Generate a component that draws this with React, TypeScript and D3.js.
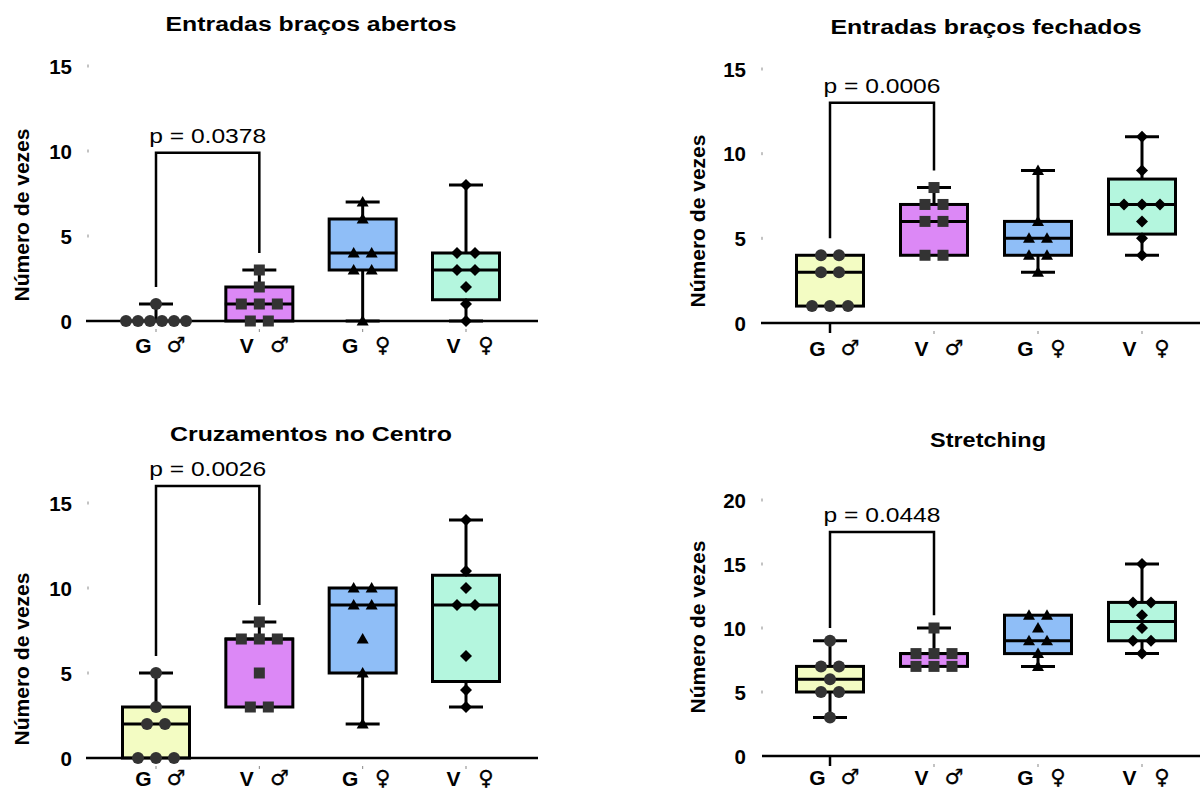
import React from "react";
import * as d3 from "d3";

// ---------- data ----------
const groupLetters = ["G", "V", "G", "V"];
const sexSymbols = ["♂", "♂", "♀", "♀"];
const categories = ["G ♂", "V ♂", "G ♀", "V ♀"];
const panelTitles = [
  "Entradas braços abertos",
  "Entradas braços fechados",
  "Cruzamentos no Centro",
  "Stretching",
];
const yAxisLabel = "Número de vezes";
const yTicks15 = [0, 5, 10, 15];
const yTicks20 = [0, 5, 10, 15, 20];

// raw points per group
const openArmsPoints = [
  [0, 0, 0, 0, 0, 0, 1],
  [0, 0, 1, 1, 1, 2, 3],
  [0, 3, 3, 4, 4, 6, 7],
  [0, 1, 2, 3, 3, 4, 4, 8],
];
const closedArmsPoints = [
  [1, 1, 1, 3, 3, 4, 4],
  [4, 4, 6, 6, 7, 7, 8],
  [3, 4, 4, 5, 5, 6, 9],
  [4, 5, 6, 7, 7, 7, 9, 11],
];
const centerPoints = [
  [0, 0, 0, 2, 2, 3, 5],
  [3, 3, 5, 7, 7, 7, 8],
  [2, 5, 7, 9, 9, 10, 10],
  [3, 4, 6, 9, 9, 10, 11, 14],
];
const stretchPoints = [
  [3, 5, 5, 6, 7, 7, 9],
  [7, 7, 7, 8, 8, 8, 10],
  [7, 8, 9, 9, 10, 11, 11],
  [8, 9, 9, 10, 11, 12, 12, 15],
];

// box stats: [min, q1, median, q3, max]
const openArmsBoxes = [
  [0, 0, 0, 0, 1],
  [0, 0, 1, 2, 3],
  [0, 3, 4, 6, 7],
  [0, 1.25, 3, 4, 8],
];
const closedArmsBoxes = [
  [1, 1, 3, 4, 4],
  [4, 4, 6, 7, 8],
  [3, 4, 5, 6, 9],
  [4, 5.25, 7, 8.5, 11],
];
const centerBoxes = [
  [0, 0, 2, 3, 5],
  [3, 3, 7, 7, 8],
  [2, 5, 9, 10, 10],
  [3, 4.5, 9, 10.75, 14],
];
const stretchBoxes = [
  [3, 5, 6, 7, 9],
  [7, 7, 8, 8, 10],
  [7, 8, 9, 11, 11],
  [8, 9, 10.5, 12, 15],
];

const pValues = ["p = 0.0378", "p = 0.0006", "p = 0.0026", "p = 0.0448"];
const bracketTops = [9.9, 13, 16, 17.5];
const bracketLegEnds = [
  [2, 4],
  [5, 9],
  [6, 9],
  [10, 11],
];

const groupFills = ["#f3fcc3", "#dc88f6", "#8fbef7", "#b4f6de"];
const markerFills = ["#333333", "#333333", "#000000", "#000000"];

// ---------- layout ----------
type Layout = {
  axisX0: number; axisX1: number; cx0: number; cx1: number;
  y0: number; yTopPx: number; yMax: number; ticks: number[];
  tickX: number; labelRight: number;
  titleX: number; titleY: number; titleLen: number;
  ylabX: number; ylabY: number; bigTick: boolean; xLabY: number;
};

const layouts: Layout[] = [
  { axisX0: 86, axisX1: 538, cx0: 156, cx1: 466, y0: 321, yTopPx: 66, yMax: 15, ticks: yTicks15,
    tickX: 88, labelRight: 72, titleX: 311, titleY: 31, titleLen: 291, ylabX: 22, ylabY: 215, bigTick: false, xLabY: 345 },
  { axisX0: 761, axisX1: 1200, cx0: 830, cx1: 1142, y0: 323, yTopPx: 69, yMax: 15, ticks: yTicks15,
    tickX: 762, labelRight: 746, titleX: 986, titleY: 34, titleLen: 311, ylabX: 698, ylabY: 221, bigTick: true, xLabY: 348 },
  { axisX0: 86, axisX1: 538, cx0: 156, cx1: 466, y0: 758, yTopPx: 503, yMax: 15, ticks: yTicks15,
    tickX: 88, labelRight: 72, titleX: 311, titleY: 441, titleLen: 282, ylabX: 22, ylabY: 659, bigTick: false, xLabY: 778 },
  { axisX0: 762, axisX1: 1200, cx0: 830, cx1: 1142, y0: 756, yTopPx: 500, yMax: 20, ticks: yTicks20,
    tickX: 762, labelRight: 746, titleX: 988, titleY: 447, titleLen: 116, ylabX: 698, ylabY: 627, bigTick: true, xLabY: 777 },
];

const allPoints = [openArmsPoints, closedArmsPoints, centerPoints, stretchPoints];
const allBoxes = [openArmsBoxes, closedArmsBoxes, centerBoxes, stretchBoxes];

const FONT = "'Liberation Sans', Arial, Helvetica, sans-serif";

function Marker({ kind, x, y, fill }: { kind: number; x: number; y: number; fill: string }) {
  if (kind === 0) return <circle cx={x} cy={y} r={6} fill={fill} />;
  if (kind === 1) return <rect x={x - 5.5} y={y - 5.5} width={11} height={11} fill={fill} />;
  if (kind === 2)
    return <path d={`M${x},${y - 6} L${x + 6},${y + 4.5} L${x - 6},${y + 4.5} Z`} fill={fill} />;
  return <path d={`M${x},${y - 6} L${x + 6},${y} L${x},${y + 6} L${x - 6},${y} Z`} fill={fill} />;
}

function Panel({ idx }: { idx: number }) {
  const L = layouts[idx];
  const y = d3.scaleLinear().domain([0, L.yMax]).range([L.y0, L.yTopPx]);
  const x = d3.scalePoint<string>().domain(categories).range([L.cx0, L.cx1]);
  const pts = allPoints[idx];
  const boxes = allBoxes[idx];
  const boxW = 67;
  const capW = 34;
  const [legA, legB] = bracketLegEnds[idx];
  const bx0 = x(categories[0])!;
  const bx1 = x(categories[1])!;
  const bTop = y(bracketTops[idx]);

  return (
    <g>
      <text x={L.titleX} y={L.titleY} textAnchor="middle" fontFamily={FONT} fontWeight="bold"
        fontSize={19.5} textLength={L.titleLen} lengthAdjust="spacingAndGlyphs">{panelTitles[idx]}</text>
      <text transform={`translate(${L.ylabX},${L.ylabY}) rotate(-90)`} textAnchor="middle"
        dominantBaseline="central" fontFamily={FONT} fontWeight="bold" fontSize={20}
        textLength={173} lengthAdjust="spacingAndGlyphs">{yAxisLabel}</text>
      {L.ticks.map((t) => (
        <g key={t}>
          <text x={L.labelRight} y={y(t)} textAnchor="end" dominantBaseline="central"
            fontFamily={FONT} fontWeight="bold" fontSize={20.5}>{t}</text>
          {t > 0 && <rect x={L.tickX - 0.5} y={y(t) - 1.5} width={1} height={3} fill="#888" />}
        </g>
      ))}
      {/* boxes */}
      {boxes.map((b, i) => {
        const cx = x(categories[i])!;
        const [mn, q1, md, q3, mx] = b;
        return (
          <g key={i}>
            <line x1={cx} x2={cx} y1={y(q3)} y2={y(mx)} stroke="#000" strokeWidth={3} />
            <line x1={cx} x2={cx} y1={y(q1)} y2={y(mn)} stroke="#000" strokeWidth={3} />
            {mx > q3 && <line x1={cx - capW / 2} x2={cx + capW / 2} y1={y(mx)} y2={y(mx)} stroke="#000" strokeWidth={3} />}
            {mn < q1 && <line x1={cx - capW / 2} x2={cx + capW / 2} y1={y(mn)} y2={y(mn)} stroke="#000" strokeWidth={3} />}
            <rect x={cx - boxW / 2} y={y(q3)} width={boxW} height={Math.max(0, y(q1) - y(q3))}
              fill={groupFills[i]} stroke="#000" strokeWidth={3} />
            <line x1={cx - boxW / 2 - 1} x2={cx + boxW / 2 + 1} y1={y(md)} y2={y(md)} stroke="#000" strokeWidth={3} />
          </g>
        );
      })}
      {/* axis */}
      <line x1={L.axisX0} x2={L.axisX1} y1={L.y0} y2={L.y0} stroke="#000" strokeWidth={2.5} />
      {categories.map((c, i) => {
        const cx = x(c)!;
        return (
          <g key={c}>
            {L.bigTick && i === 0 ? (
              <line x1={cx} x2={cx} y1={L.y0} y2={L.y0 + 10} stroke="#000" strokeWidth={2.5} />
            ) : (
              <rect x={cx - 0.5} y={L.y0 + 8} width={1} height={3} fill="#888" />
            )}
            <text x={cx - 12.5} y={L.xLabY} textAnchor="middle" dominantBaseline="central"
              fontFamily={FONT} fontWeight="bold" fontSize={21}>{groupLetters[i]}</text>
            <text x={cx + 20} y={L.xLabY} textAnchor="middle" dominantBaseline="central"
              fontFamily="'DejaVu Sans', sans-serif" fontWeight="bold" fontSize={21}
              stroke="#000" strokeWidth={0.3}>{sexSymbols[i]}</text>
          </g>
        );
      })}
      {/* points */}
      {pts.map((arr, i) => {
        const cx = x(categories[i])!;
        const counts = d3.rollup(arr, (v) => v.length, (d) => d);
        const seen = new Map<number, number>();
        return (
          <g key={i}>
            {arr.map((v, j) => {
              const k = counts.get(v)!;
              const n = seen.get(v) || 0;
              seen.set(v, n + 1);
              const sp = Math.min(18, 72 / k);
              const px = cx + (n - (k - 1) / 2) * sp;
              return <Marker key={j} kind={i} x={px} y={y(v)} fill={markerFills[i]} />;
            })}
          </g>
        );
      })}
      {/* bracket */}
      <path d={`M${bx0},${y(legA)} L${bx0},${bTop} L${bx1},${bTop} L${bx1},${y(legB)}`}
        fill="none" stroke="#000" strokeWidth={2.5} />
      <text x={(bx0 + bx1) / 2} y={bTop - 10} textAnchor="middle" fontFamily={FONT}
        fontSize={20} textLength={117} lengthAdjust="spacingAndGlyphs">{pValues[idx]}</text>
    </g>
  );
}

export default function App() {
  return (
    <svg width={1202} height={792} style={{ position: "absolute", left: 0, top: 0, background: "#fff" }}>
      <rect width={1202} height={792} fill="#fff" />
      {[0, 1, 2, 3].map((i) => (
        <Panel key={i} idx={i} />
      ))}
    </svg>
  );
}
